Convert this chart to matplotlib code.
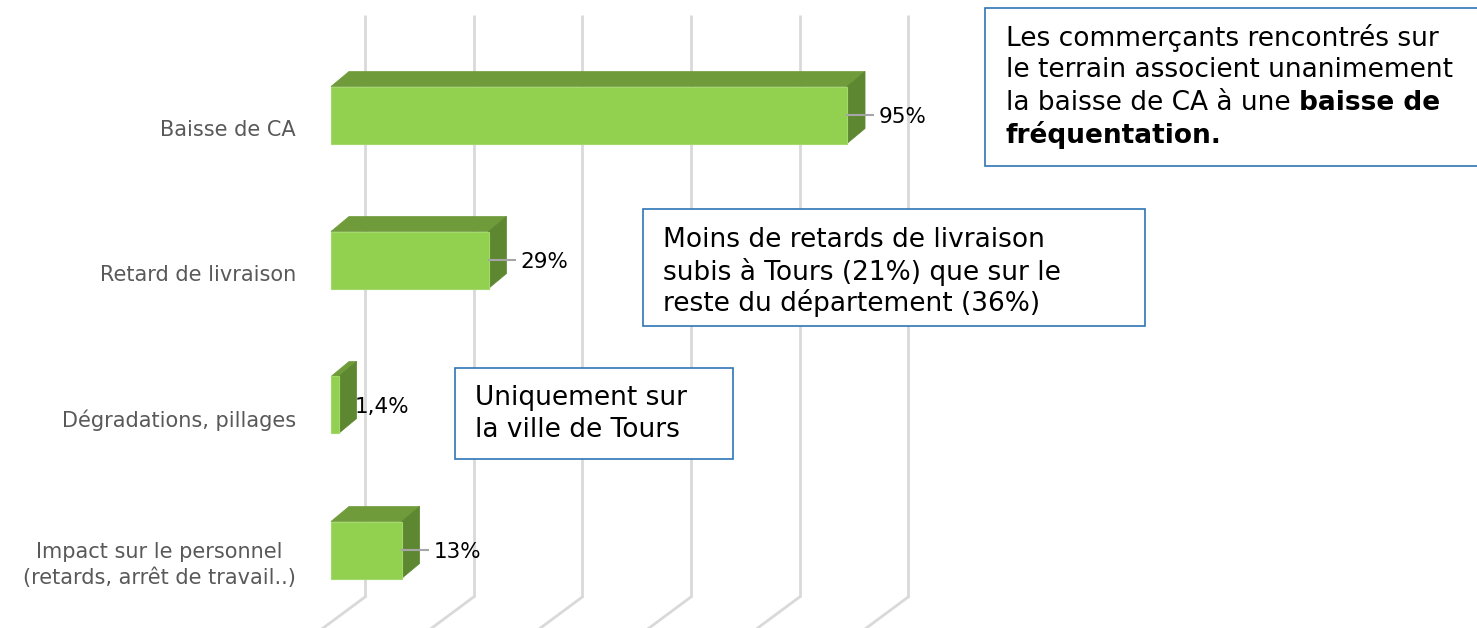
import matplotlib
matplotlib.use("Agg")
import matplotlib.pyplot as plt
from matplotlib.patches import Polygon, Rectangle

categories = ["Baisse de CA", "Retard de livraison", "Dégradations, pillages",
              "Impact sur le personnel\n(retards, arrêt de travail..)"]
values = [95, 29, 1.4, 13]
value_labels = ["95%", "29%", "1,4%", "13%"]
grid_ticks = [0, 20, 40, 60, 80, 100]

W, H = 1477, 628
DPI = 100
fig = plt.figure(figsize=(W / DPI, H / DPI), dpi=DPI)
ax = fig.add_axes([0, 0, 1, 1])
ax.set_axis_off()

# pixel <-> data mapping
X0_PX, PX_PER_UNIT = 331, 5.432
Y0_PX, PX_PER_CAT = 115, 145
ax.set_xlim(-X0_PX / PX_PER_UNIT, (W - X0_PX) / PX_PER_UNIT)
ax.set_ylim((H - Y0_PX) / PX_PER_CAT, -Y0_PX / PX_PER_CAT)

def px_dx(p):
    return p / PX_PER_UNIT

def px_dy(p):
    return p / PX_PER_CAT

FRONT = "#92D050"
TOP = "#6F9B3A"
SIDE = "#5E8731"
GRID = "#D9D9D9"
BLUE = "#2E75B6"

# back wall gridlines + floor diagonal
wall_dx, wall_dy = px_dx(34), px_dy(-28)
y_top, y_bot = px_dy(15 - Y0_PX), px_dy(597 - Y0_PX)
for t in grid_ticks:
    xb = t + wall_dx
    ax.plot([xb, xb], [y_top, y_bot], color=GRID, lw=2, solid_capstyle="butt", zorder=1)
    ax.plot([xb, xb - 3 * wall_dx], [y_bot, y_bot - 2.7 * wall_dy], color=GRID, lw=2,
            zorder=1)

# bars
bh = px_dy(57)
ddx, ddy = px_dx(18), px_dy(-15)
bars = ax.barh(range(len(values)), values, height=bh, color=FRONT, edgecolor="#A3D86A",
               linewidth=0.8, zorder=4)
for i, v in enumerate(values):
    top_y = i - bh / 2
    bot_y = i + bh / 2
    top = Polygon([(0, top_y), (v, top_y), (v + ddx, top_y + ddy), (ddx, top_y + ddy)],
                  closed=True, facecolor=TOP, edgecolor=TOP, lw=0.5, zorder=3)
    side = Polygon([(v, top_y), (v + ddx, top_y + ddy), (v + ddx, bot_y + ddy), (v, bot_y)],
                   closed=True, facecolor=SIDE, edgecolor=SIDE, lw=0.5, zorder=3)
    ax.add_patch(top)
    ax.add_patch(side)

# value labels with leader lines
label_off_px = [32, 32, 16, 32]
for i, (v, lab) in enumerate(zip(values, value_labels)):
    if v > 5:
        ax.plot([v, v + px_dx(26)], [i, i], color="#A6A6A6", lw=1.5, zorder=5)
    ax.text(v + px_dx(label_off_px[i]), i + px_dy(2), lab, ha="left", va="center",
            fontsize=15.5, color="black", zorder=6)

# category labels
for i, c in enumerate(categories):
    ax.text(px_dx(296 - X0_PX), i + px_dy(15), c, ha="right",
            va="center", multialignment="center", fontsize=15, color="#595959",
            linespacing=1.3)

# annotation boxes (pixel coordinates of the figure)
def px_box(x0, y0, x1, y1):
    r = Rectangle((x0 / W, 1 - y1 / H), (x1 - x0) / W, (y1 - y0) / H,
                  transform=fig.transFigure, facecolor="white", edgecolor=BLUE,
                  lw=1.2, zorder=10)
    fig.patches.append(r)

FS = 19
px_box(985, 8, 1490, 166)
lines1 = [("Les commerçants rencontrés sur", None),
          ("le terrain associent unanimement", None),
          ("la baisse de CA à une ", "baisse de"),
          (None, "fréquentation.")]
y = 38
for normal, bold in lines1:
    x = 1006
    if normal:
        t = fig.text(x / W, 1 - y / H, normal, fontsize=FS, va="center", ha="left",
                     color="black", zorder=11)
        fig.canvas.draw()
        bb = t.get_window_extent()
        x = bb.x1
    if bold:
        fig.text(x / W, 1 - y / H, bold, fontsize=FS, va="center", ha="left",
                 color="black", fontweight="bold", zorder=11)
    y += 32.3

px_box(643, 209, 1145, 326)
for k, line in enumerate(["Moins de retards de livraison", "subis à Tours (21%) que sur le",
                          "reste du département (36%)"]):
    fig.text(663 / W, 1 - (240 + 31.5 * k) / H, line, fontsize=FS, va="center", ha="left",
             color="black", zorder=11)

px_box(455, 368, 733, 459)
for k, line in enumerate(["Uniquement sur", "la ville de Tours"]):
    fig.text(475 / W, 1 - (398 + 32 * k) / H, line, fontsize=FS, va="center", ha="left",
             color="black", zorder=11)

fig.savefig("out.png", dpi=DPI)
